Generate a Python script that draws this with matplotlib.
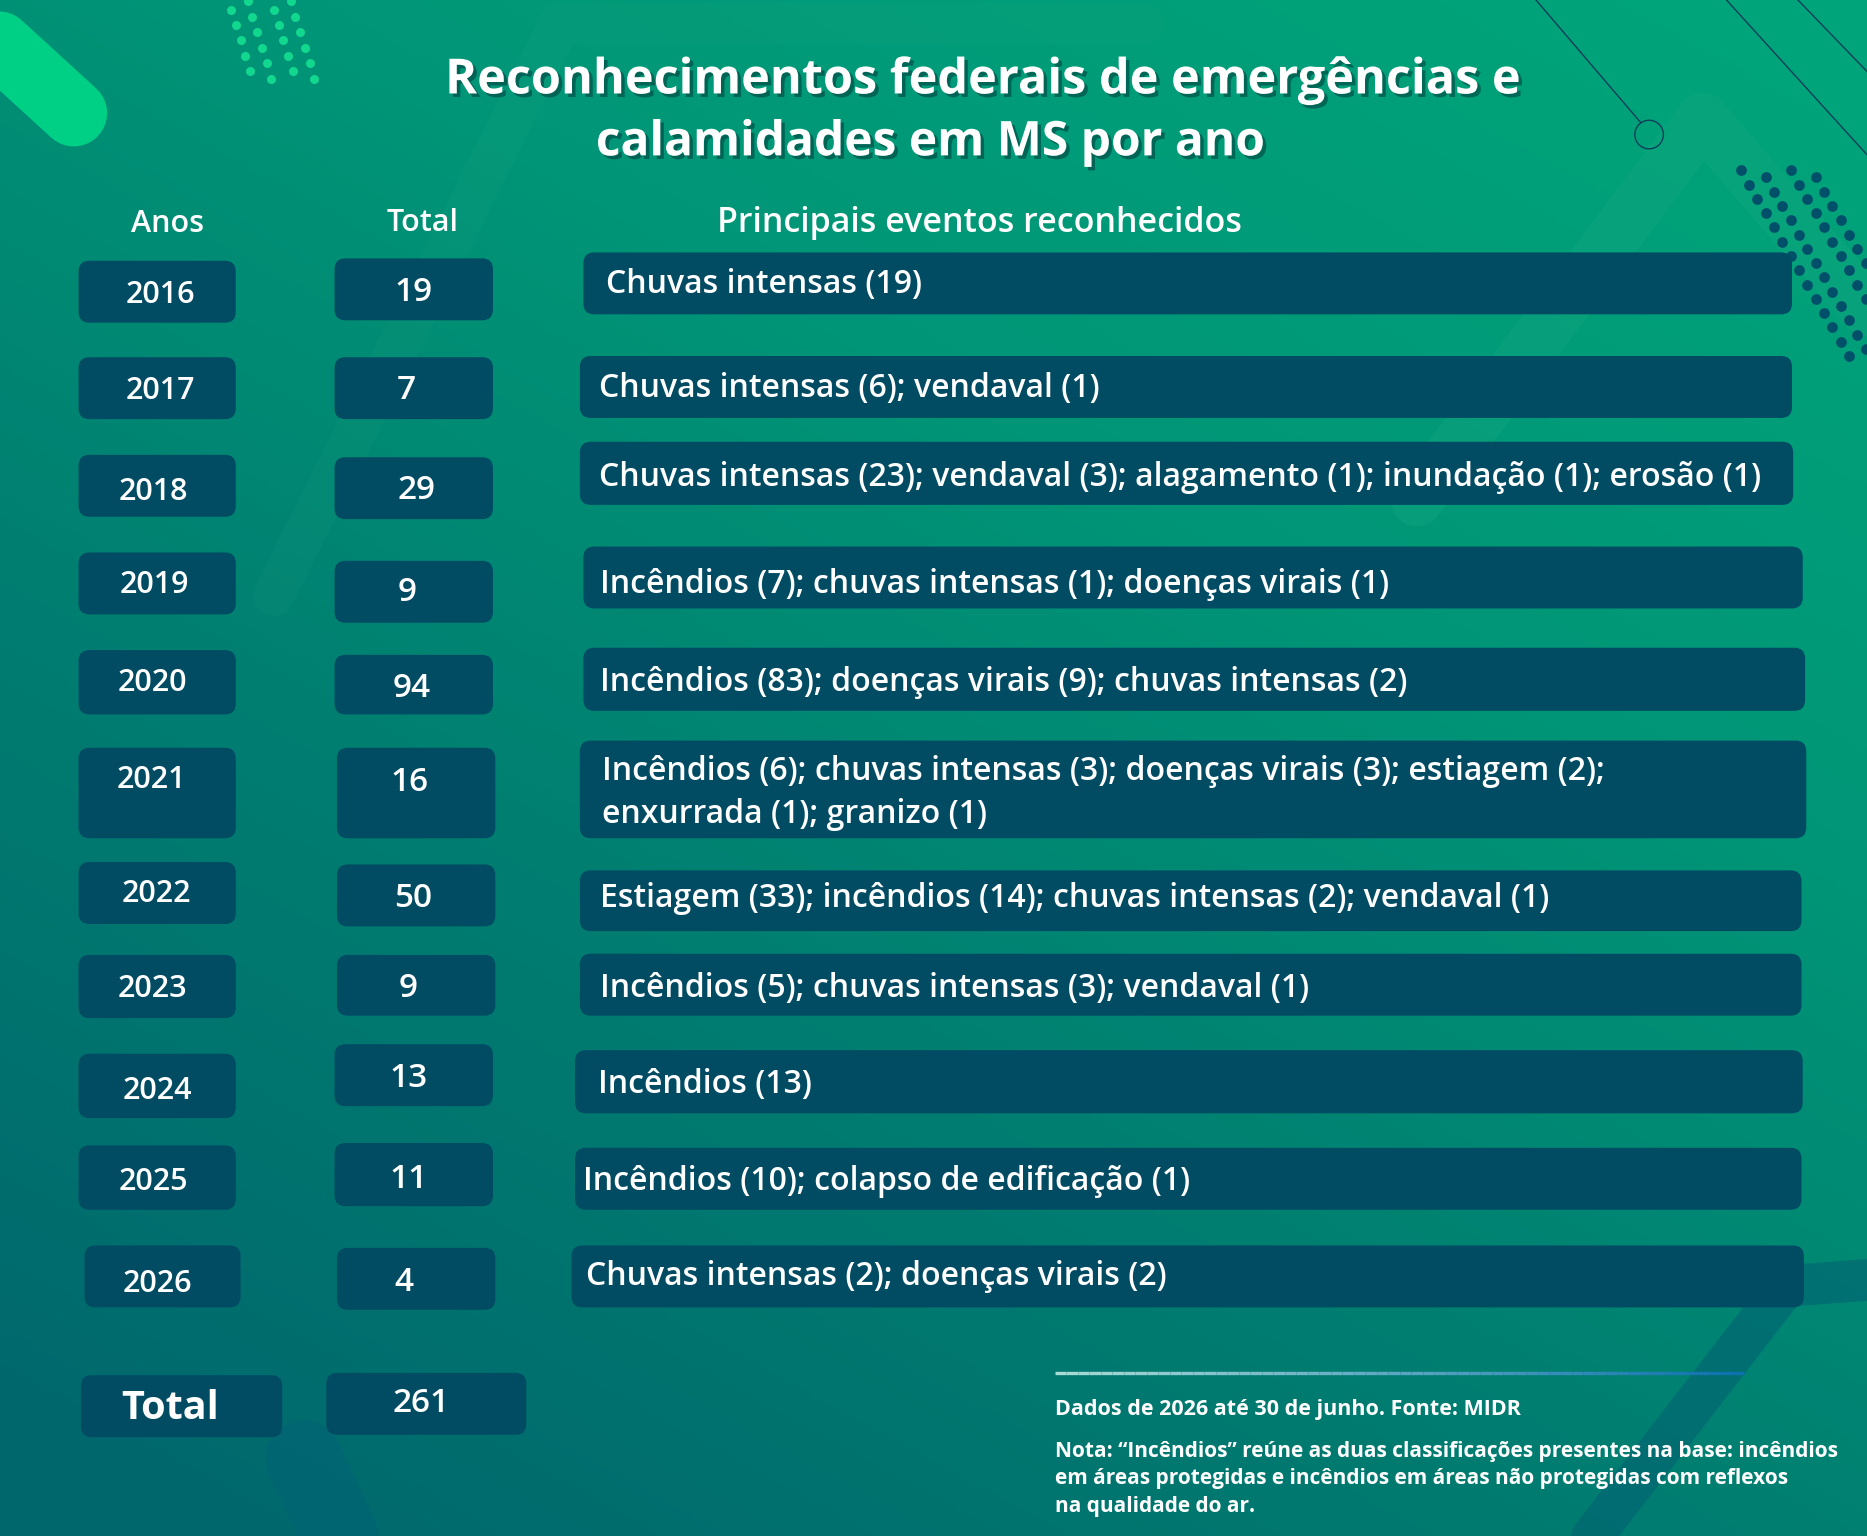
import numpy as np
import matplotlib
matplotlib.use("Agg")
import matplotlib.pyplot as plt
from matplotlib.patches import FancyBboxPatch, Circle
from matplotlib.colors import LinearSegmentedColormap, to_rgb
import matplotlib.patheffects as pe

plt.rcParams["font.family"] = ["Open Sans", "DejaVu Sans"]

# =========================
# data
# =========================
anos = ["2016", "2017", "2018", "2019", "2020", "2021",
        "2022", "2023", "2024", "2025", "2026"]
totais = [19, 7, 29, 9, 94, 16, 50, 9, 13, 11, 4]
eventos = [
    "Chuvas intensas (19)",
    "Chuvas intensas (6); vendaval (1)",
    "Chuvas intensas (23); vendaval (3); alagamento (1); inundação (1); erosão (1)",
    "Incêndios (7); chuvas intensas (1); doenças virais (1)",
    "Incêndios (83); doenças virais (9); chuvas intensas (2)",
    "Incêndios (6); chuvas intensas (3); doenças virais (3); estiagem (2);\nenxurrada (1); granizo (1)",
    "Estiagem (33); incêndios (14); chuvas intensas (2); vendaval (1)",
    "Incêndios (5); chuvas intensas (3); vendaval (1)",
    "Incêndios (13)",
    "Incêndios (10); colapso de edificação (1)",
    "Chuvas intensas (2); doenças virais (2)",
]
total_geral = 261

titulo = ["Reconhecimentos federais de emergências e",
          "calamidades em MS por ano"]
fonte = "Dados de 2026 até 30 de junho. Fonte: MIDR"
nota = ("Nota: “Incêndios” reúne as duas classificações presentes na base: incêndios\n"
        "em áreas protegidas e incêndios em áreas não protegidas com reflexos\n"
        "na qualidade do ar.")

# =========================
# layout (canvas units, y grows downward)
# =========================
W, H = 1568, 1290
box_color = "#014b63"
dy = 3  # small vertical nudge for text

# year column: (x0, x1, top, bottom)
ano_box = [(66, 198, 219, 271), (66, 198, 300, 352), (66, 198, 382, 434),
           (66, 198, 464, 516), (66, 198, 546, 600), (66, 198, 628, 704),
           (66, 198, 724, 776), (66, 198, 802, 855), (66, 198, 885, 939),
           (66, 198, 962, 1016), (71, 202, 1046, 1098)]
ano_txt_y = [245, 325, 410, 488, 571, 652, 748, 828, 913, 990, 1075]
ano_txt_x = [135, 135, 129, 130, 128, 127, 131, 128, 132, 129, 132]

tot_box = [(281, 414, 217, 269), (281, 414, 300, 352), (281, 414, 384, 436),
           (281, 414, 471, 523), (281, 414, 550, 600), (283, 416, 628, 704),
           (283, 416, 726, 778), (283, 416, 802, 853), (281, 414, 877, 929),
           (281, 414, 960, 1013), (283, 416, 1048, 1100)]
tot_txt_y = [243, 325, 409, 495, 575, 654, 752, 827, 903, 988, 1074]
tot_txt_x = [347, 341, 350, 342, 346, 344, 347, 343, 343, 343, 339]

ev_box = [(490, 1505, 212, 264), (487, 1505, 299, 351), (487, 1506, 371, 424),
          (490, 1514, 459, 511), (490, 1516, 544, 597), (487, 1517, 622, 704),
          (487, 1513, 731, 782), (487, 1513, 801, 853), (483, 1514, 882, 935),
          (483, 1513, 964, 1016), (480, 1515, 1046, 1098)]
ev_txt_x = [509, 503, 503, 504, 504, 506, 504, 504, 502, 490, 492]
ev_txt_y = [236, 323, 398, 488, 570, 663, 752, 827, 908, 989, 1069]


def rbox(ax, x0, x1, top, bottom, r=9, color=box_color, z=3):
    p = FancyBboxPatch((x0 + r, top + r), (x1 - x0) - 2 * r, (bottom - top) - 2 * r,
                       boxstyle=f"round,pad={r},rounding_size={r}",
                       fc=color, ec="none", zorder=z)
    ax.add_patch(p)


fig = plt.figure(figsize=(18.67, 15.36), dpi=100)
ax = fig.add_axes([0, 0, 1, 1])
ax.set_xlim(0, W)
ax.set_ylim(H, 0)
ax.axis("off")

# background gradient
yy, xx = np.mgrid[0:H:4, 0:W:4]
t = 0.6 * (1 - yy / H) + 0.4 * (xx / W)
cmap = LinearSegmentedColormap.from_list(
    "bg", ["#00686d", "#007c70", "#009577", "#00a47a"])
ax.imshow(t, cmap=cmap, extent=(0, W, H, 0), aspect="auto", zorder=0,
          vmin=0.05, vmax=0.95)

# decorative shapes
ax.plot([1190, 1430, 1568], [420, 100, 260], color="#1aa882", lw=38,
        alpha=0.3, solid_capstyle="round", solid_joinstyle="round", zorder=1)
ax.plot([230, 470, 960], [500, 20, 20], color="#3bb48f", lw=30,
        alpha=0.07, solid_capstyle="round", solid_joinstyle="round", zorder=1)
ax.plot([1568, 1500, 1330], [1075, 1080, 1300], color="#036272", lw=30,
        alpha=0.6, solid_capstyle="round", solid_joinstyle="round", zorder=1)
ax.plot([255, 290], [1225, 1300], color="#026473", lw=55, alpha=0.7,
        solid_capstyle="round", zorder=1)
ax.plot([-20, 62], [20, 95], color="#00cf86", lw=48,
        solid_capstyle="round", zorder=1)
ax.plot([1290, 1378], [0, 103], color="#0e3f5a", lw=1.0, zorder=1)
ax.add_patch(Circle((1385, 113), 12, fc="none", ec="#0e3f5a", lw=1.0, zorder=1))
ax.plot([1450, 1568], [0, 130], color="#0e3f5a", lw=1.0, zorder=1)
ax.plot([1510, 1568], [0, 60], color="#0e3f5a", lw=1.0, zorder=1)

# dot grids
gx, gy = [], []
for i in range(6):
    for j in range(4):
        gx.append(190 + j * 18 + i * 4)
        gy.append(-5 + i * 13 + (j % 2) * 6)
ax.scatter(gx, gy, s=42, color="#12d88f", zorder=1, lw=0)
gx, gy = [], []
for i in range(14):
    for j in range(4):
        x = 1462 + j * 21 + i * 7
        y = 143 + i * 12 + (j % 2) * 6
        if x < W + 10:
            gx.append(x)
            gy.append(y)
ax.scatter(gx, gy, s=60, color="#01506a", zorder=1, lw=0)

# title
sh = [pe.withSimplePatchShadow(offset=(2.5, -2.5), shadow_rgbFace="#003a3a", alpha=0.55)]
ax.text(825, 65 + dy, titulo[0], ha="center", va="center", color="white",
        fontsize=35, fontweight="bold", path_effects=sh, zorder=5)
ax.text(781, 117 + dy, titulo[1], ha="center", va="center", color="white",
        fontsize=34.5, fontweight="bold", path_effects=sh, zorder=5)

# headers
ax.text(141, 185 + dy, "Anos", ha="center", va="center", color="white",
        fontsize=22, fontweight="semibold", zorder=5)
ax.text(355, 184 + dy, "Total", ha="center", va="center", color="white",
        fontsize=22, fontweight="semibold", zorder=5)
ax.text(602, 184 + dy, "Principais eventos reconhecidos", ha="left", va="center",
        color="white", fontsize=24.5, fontweight="semibold", zorder=5)

# rows
for i in range(len(anos)):
    rbox(ax, *ano_box[i])
    rbox(ax, *tot_box[i])
    rbox(ax, *ev_box[i])
    ax.text(ano_txt_x[i], ano_txt_y[i] + dy, anos[i], ha="center", va="center",
            color="white", fontsize=22, fontweight="semibold", zorder=5)
    ax.text(tot_txt_x[i], tot_txt_y[i] + dy, str(totais[i]), ha="center", va="center",
            color="white", fontsize=24, fontweight="semibold", zorder=5)
    ax.text(ev_txt_x[i], ev_txt_y[i] + dy, eventos[i], ha="left", va="center",
            color="white", fontsize=23, fontweight="semibold", zorder=5,
            linespacing=1.42)

# total row
rbox(ax, 68, 237, 1155, 1207)
rbox(ax, 274, 442, 1153, 1205)
ax.text(143, 1180 + dy, "Total", ha="center", va="center", color="white",
        fontsize=28.5, fontweight="bold", zorder=5)
ax.text(354, 1176 + dy, str(total_geral), ha="center", va="center", color="white",
        fontsize=24, fontweight="semibold", zorder=5)

# footer
n = 60
xs = np.linspace(886, 1465, n + 1)
c1 = to_rgb("#a9dad5")
c2 = to_rgb("#0a6fae")
for k in range(n):
    f = k / n
    col = tuple(c1[m] * (1 - f) + c2[m] * f for m in range(3))
    ax.plot(xs[k:k + 2], [1153, 1153], color=col, lw=2.4, zorder=4,
            solid_capstyle="butt")
ax.text(886, 1181 + dy, fonte, ha="left", va="center", color="white",
        fontsize=15.5, fontweight="bold", zorder=5)
ax.text(886, 1239 + dy, nota, ha="left", va="center", color="white",
        fontsize=15, fontweight="bold", zorder=5, linespacing=1.4)

fig.savefig("out.png", dpi=100)
plt.close(fig)
